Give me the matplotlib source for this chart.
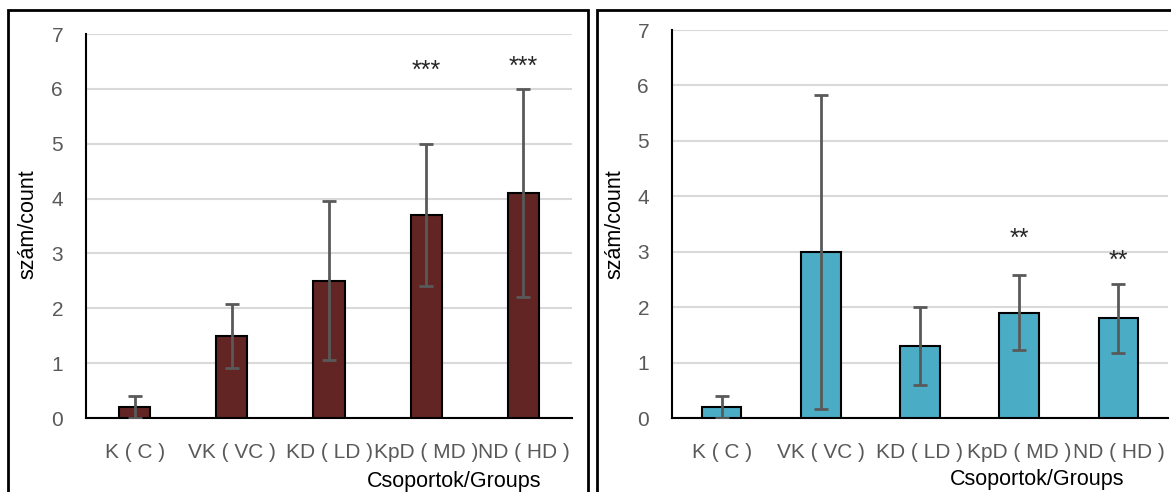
import matplotlib
matplotlib.use("Agg")
import matplotlib.pyplot as plt
from matplotlib.patches import Rectangle

plt.rcParams['font.family'] = ['Liberation Sans', 'DejaVu Sans']

categories = ["K ( C )", "VK ( VC )", "KD ( LD )", "KpD ( MD )", "ND ( HD )"]
left_values = [0.2, 1.5, 2.5, 3.7, 4.1]
left_errors = [0.2, 0.58, 1.45, 1.3, 1.9]
left_marks = ["", "", "", "***", "***"]
left_mark_y = [None, None, None, 6.2, 6.27]

right_values = [0.2, 3.0, 1.3, 1.9, 1.8]
right_errors = [0.2, 2.83, 0.7, 0.68, 0.62]
right_marks = ["", "", "", "**", "**"]
right_mark_y = [None, None, None, 3.1, 2.7]

yticks = [0, 1, 2, 3, 4, 5, 6, 7]

W, H = 1171, 492
fig = plt.figure(figsize=(W / 100, H / 100), dpi=100)

# panel frames
fig.patches.append(Rectangle((8 / W, -0.05), 580 / W, 1 - 10 / H + 0.05, transform=fig.transFigure,
                             fill=False, edgecolor='black', linewidth=2))
fig.patches.append(Rectangle((597 / W, -0.05), 0.6, 1 - 10 / H + 0.05, transform=fig.transFigure,
                             fill=False, edgecolor='black', linewidth=2))


def panel(rect, values, errors, marks, mark_y, color, barw, ylabel_x, xlabel_x, xlabel_y):
    ax = fig.add_axes(rect)
    x = list(range(len(categories)))
    ax.bar(x, values, width=barw, color=color, edgecolor='black', linewidth=1.5, zorder=3)
    ax.errorbar(x, values, yerr=errors, fmt='none', ecolor='#595959', elinewidth=2,
                capsize=5, capthick=2, zorder=4)
    for xi, m, my in zip(x, marks, mark_y):
        if m:
            ax.text(xi, my, m, ha='center', va='baseline', fontsize=18, color='#262626')
    ax.set_xlim(-0.5, len(categories) - 0.5)
    ax.set_ylim(0, 7)
    ax.set_yticks(yticks)
    ax.set_yticklabels([str(t) for t in yticks])
    ax.set_xticks(x)
    ax.set_xticklabels(categories)
    ax.tick_params(axis='both', length=0, labelcolor='#595959')
    ax.tick_params(axis='y', pad=16.5, labelsize=15)
    ax.tick_params(axis='x', pad=18, labelsize=15)
    ax.grid(axis='y', color='#d9d9d9', linewidth=1.5, zorder=0)
    ax.set_axisbelow(True)
    for s in ['top', 'right']:
        ax.spines[s].set_visible(False)
    ax.spines['left'].set_color('black')
    ax.spines['bottom'].set_color('black')
    ax.spines['left'].set_linewidth(1.5)
    ax.spines['bottom'].set_linewidth(1.5)
    fig.text(ylabel_x / W, 1 - 224 / H, "szám/count", rotation=90, ha='center', va='center',
             fontsize=15.5, color='black')
    fig.text(xlabel_x / W, 1 - xlabel_y / H, "Csoportok/Groups", ha='center', va='center',
             fontsize=15.5, color='black')
    return ax


panel([86 / W, 1 - 418 / H, 486 / W, 384 / H], left_values, left_errors, left_marks, left_mark_y,
      '#632523', 0.32, 28, 454, 482)
panel([672 / W, 1 - 418 / H, 496 / W, 388 / H], right_values, right_errors, right_marks, right_mark_y,
      '#4BACC6', 0.4, 615, 1037, 480)

fig.savefig("out.png", dpi=100)
